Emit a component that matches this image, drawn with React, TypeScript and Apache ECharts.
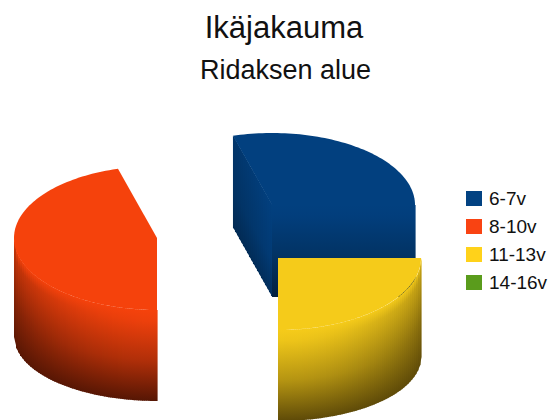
import React, { useEffect, useRef } from "react";
import * as echarts from "echarts";

const categories = ["6-7v", "8-10v", "11-13v", "14-16v"];
const shares = [29.4, 45.6, 25, 0];

const legendColors = ["#024282", "#F94312", "#FFD21A", "#5A9C1C"];
const faceColors = ["#02407F", "#F5420C", "#F5CB1A", "#5A9C1C"];
const darkColors = ["#02203F", "#561604", "#5E4A08", "#203A08"];
const sliceCenters = [[272, 205], [157, 238], [278, 258], [272, 240]];

const RX = 143;
const RY = 72;
const RIM_DROP = 99;
const RIM_RY = 64;
const RADIAL_DROP = 92;

const rad = (d: number) => (d * Math.PI) / 180;
const hex = (c: string) => [1, 3, 5].map((i) => parseInt(c.slice(i, i + 2), 16));
const mix = (a: string, b: string, t: number) => {
  const A = hex(a);
  const B = hex(b);
  return `rgb(${A.map((v, i) => Math.round(v + (B[i] - v) * t)).join(",")})`;
};

function wallFill(base: string, dark: string, edge: number) {
  return new echarts.graphic.LinearGradient(0, 0, 0, 1, [
    { offset: 0, color: base },
    { offset: 0.12, color: mix(base, dark, 0.05 + 0.3 * edge) },
    { offset: 0.55, color: mix(base, dark, 0.42 + 0.3 * edge) },
    { offset: 1, color: dark },
  ]);
}

function sideFill(base: string, dark: string, t: number) {
  return new echarts.graphic.LinearGradient(0, 0, 0, 1, [
    { offset: 0, color: mix(base, dark, 0.3 * t) },
    { offset: 0.6, color: mix(base, dark, 0.15 + 0.3 * t) },
    { offset: 1, color: mix(base, dark, 0.55 + 0.15 * t) },
  ]);
}

function strip(x0: number, x1: number, top: (x: number) => number, bot: (x: number) => number, fill: any) {
  return {
    type: "polygon",
    silent: true,
    shape: { points: [[x0, top(x0)], [x1 + 0.6, top(x1)], [x1 + 0.6, bot(x1)], [x0, bot(x0)]] },
    style: { fill },
  };
}

function sliceElements(k: number) {
  const before = shares.slice(0, k).reduce((a, b) => a + b, 0);
  let hi = 90 - before * 3.6;
  let lo = hi - shares[k] * 3.6;
  if (lo < -100) {
    hi += 360;
    lo += 360;
  }
  const [cx, cy] = sliceCenters[k];
  const base = faceColors[k];
  const dark = darkColors[k];
  const px = (a: number) => cx + RX * Math.sin(rad(a));
  const py = (a: number) => cy - RY * Math.cos(rad(a));
  const children: any[] = [];

  const radial = (a: number) => {
    const ex = px(a);
    const ey = py(a);
    const left = Math.min(ex, cx);
    const right = Math.max(ex, cx);
    if (right - left < 2) {
      return;
    }
    const top = (x: number) => cy + ((x - cx) / (ex - cx)) * (ey - cy);
    const bot = (x: number) => top(x) + RADIAL_DROP;
    for (let x = left; x < right; x += 2) {
      const t = 1 - (x - left) / (right - left);
      const fill = ex < cx ? sideFill(base, dark, t) : wallFill(base, dark, 0);
      children.push(strip(x, Math.min(x + 2, right), top, bot, fill));
    }
  };
  if (Math.sin(rad(lo)) < -1e-3) radial(lo);
  if (Math.sin(rad(hi)) > 1e-3) radial(hi);

  const from = Math.max(lo, 90);
  const to = Math.min(hi, 270);
  if (to > from) {
    const left = Math.min(px(from), px(to));
    const right = Math.max(px(from), px(to));
    const root = (x: number) => Math.sqrt(Math.max(0, 1 - ((x - cx) / RX) ** 2));
    const top = (x: number) => cy + RY * root(x);
    const bot = (x: number) => cy + RIM_DROP + RIM_RY * root(x);
    for (let x = left; x < right; x += 2) {
      const u = (x + 1 - cx) / RX;
      children.push(strip(x, Math.min(x + 2, right), top, bot, wallFill(base, dark, u * u)));
    }
  }

  const points: number[][] = [[cx, cy]];
  for (let a = lo; a < hi; a += 1.5) points.push([px(a), py(a)]);
  points.push([px(hi), py(hi)]);
  children.push({ type: "polygon", silent: true, shape: { points }, style: { fill: base } });
  return children;
}

export default function App() {
  const ref = useRef<HTMLDivElement>(null);
  useEffect(() => {
    const chart = echarts.init(ref.current!, undefined, { renderer: "svg" });
    chart.setOption({
      animation: false,
      backgroundColor: "#ffffff",
      title: [
        {
          text: "Ikäjakauma",
          left: 279,
          top: 7,
          textAlign: "center",
          textStyle: { fontFamily: "Liberation Sans", fontSize: 31, fontWeight: "normal", color: "#111111" },
        },
        {
          text: "Ridaksen alue",
          left: 280.5,
          top: 51,
          textAlign: "center",
          textStyle: { fontFamily: "Liberation Sans", fontSize: 27, fontWeight: "normal", color: "#111111" },
        },
      ],
      legend: {
        orient: "vertical",
        left: 466,
        top: 189,
        padding: 0,
        data: categories,
        icon: "rect",
        itemWidth: 16,
        itemHeight: 15,
        itemGap: 9,
        selectedMode: false,
        textStyle: { fontFamily: "Liberation Sans", fontSize: 19, color: "#111111", padding: [12, 0, 0, 2] },
      },
      series: categories.map((name, k) => ({
        type: "custom",
        name,
        coordinateSystem: "none",
        silent: true,
        itemStyle: { color: legendColors[k] },
        data: [[shares[k]]],
        renderItem: (_p: any, api: any) =>
          api.value(0) > 0 ? { type: "group", children: sliceElements(k) } : { type: "group", children: [] },
      })),
    });
    return () => chart.dispose();
  }, []);
  return <div ref={ref} style={{ position: "fixed", left: 0, top: 0, width: 548, height: 420 }} />;
}
